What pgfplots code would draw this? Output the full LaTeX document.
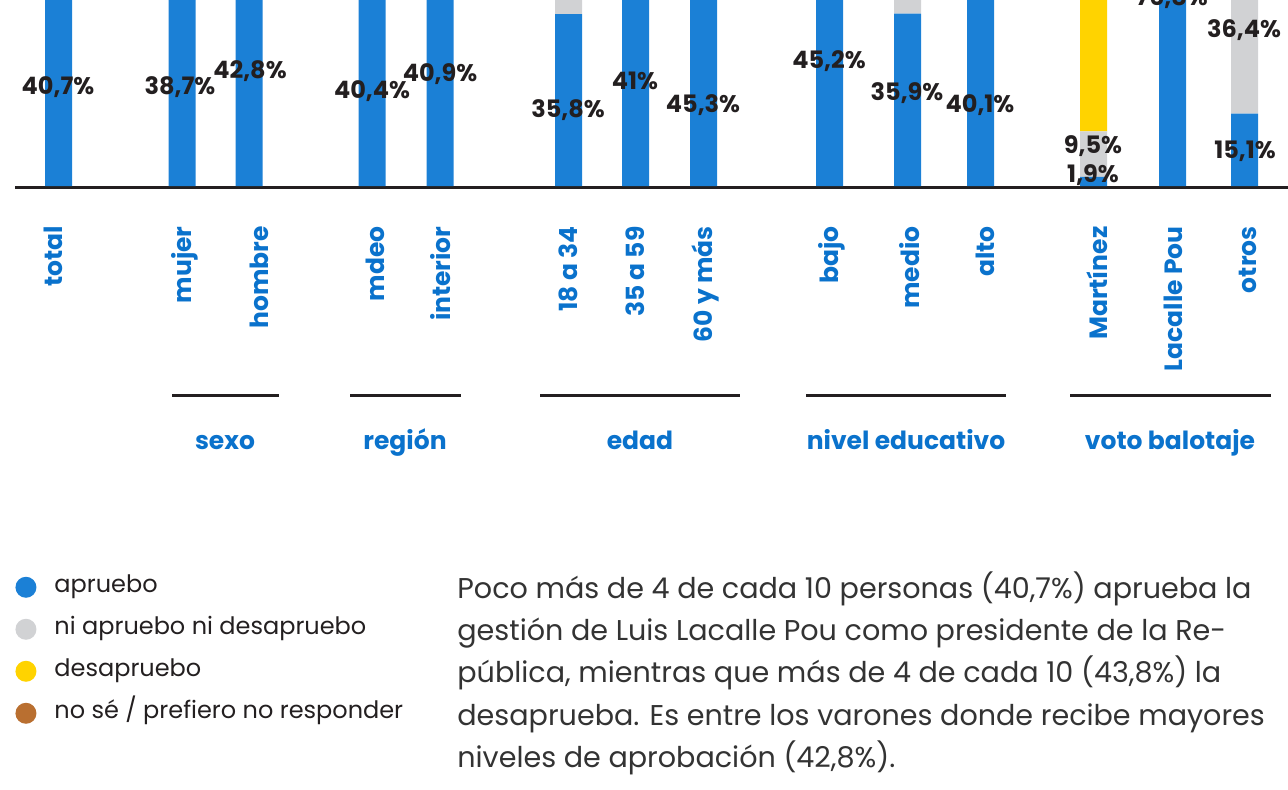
\documentclass[border=0pt]{standalone}
\usepackage{pgfplots}
\usepackage{pgfplotstable}
\pgfplotsset{compat=1.18}
\usepackage{fontspec}
\setmainfont{Poppins}
\definecolor{cblue}{HTML}{1B80D6}
\definecolor{cgray}{HTML}{D1D2D4}
\definecolor{cyellow}{HTML}{FFD300}
\definecolor{cbrown}{HTML}{B96F30}
\definecolor{ctxt}{HTML}{231F20}
\definecolor{clab}{HTML}{0A72CC}
\definecolor{cpar}{HTML}{333333}

% x = bar centre (pixel column), ap = apruebo, ni = ni apruebo ni desapruebo, des = desapruebo, ns = no sé
\pgfplotstableread{
x      ap    ni    des   ns
58.5   40.7  12.0  43.8  3.5
182    38.7  12.5  44.5  4.3
249    42.8  11.5  43.0  2.7
372    40.4  11.0  46.0  2.6
440    40.9  13.0  41.8  4.3
568.5  35.8  15.0  45.0  4.2
635.5  41.0  11.0  45.0  3.0
703.5  45.3  10.0  41.0  3.7
829.5  45.2  12.0  38.0  4.8
907.5  35.9  13.0  48.0  3.1
980.5  40.1  10.0  47.5  2.4
1093.5 1.9   9.5   86.0  2.6
1172.5 76.8  15.0  4.0   4.2
1244.5 15.1  36.4  40.0  8.5
}\data

\begin{document}
\begin{tikzpicture}
\useasboundingbox (0,0) rectangle (644pt,-394.5pt);
\begin{axis}[
  at={(0,0)}, anchor=north west,
  scale only axis, width=644pt, height=394.5pt,
  xmin=0, xmax=1288, ymin=-125.625, ymax=38.75,
  hide axis, clip=true,
  ybar stacked, bar width=27,
  legend style={draw=none, fill=none, inner sep=0pt, outer sep=0pt,
    at={(0.0120,0.2690)}, anchor=north west,
    font=\fontsize{12}{14}\selectfont, text=ctxt,
    row sep=10.5pt,
    nodes={inner sep=0pt, text height=8pt, text depth=2.5pt},
    /tikz/every odd column/.append style={column sep=9pt}},
  legend cell align=left,
]
\addplot[fill=cblue, draw=none, legend image code/.code={\fill[cblue] (0,0) circle (5.25pt);}] table[x=x,y=ap]{\data};
\addplot[fill=cgray, draw=none, legend image code/.code={\fill[cgray] (0,0) circle (5.25pt);}] table[x=x,y=ni]{\data};
\addplot[fill=cyellow, draw=none, legend image code/.code={\fill[cyellow] (0,0) circle (5.25pt);}] table[x=x,y=des]{\data};
\addplot[fill=cbrown, draw=none, legend image code/.code={\fill[cbrown] (0,0) circle (5.25pt);}] table[x=x,y=ns]{\data};
\legend{apruebo, ni apruebo ni desapruebo, desapruebo, no sé / prefiero no responder}
\draw[ctxt, line width=1.5pt] (axis cs:15,-0.21) -- (axis cs:1288,-0.21);
\end{axis}
\begin{scope}[x=0.5pt, y=-0.5pt]
% value labels
\begin{scope}[every node/.style={anchor=base, inner sep=0pt, text=ctxt, font=\fontsize{12}{14}\selectfont\bfseries}]
\node at (58,94) {40,7\%};
\node at (180,94) {38,7\%};
\node at (250,78) {42,8\%};
\node at (372,98) {40,4\%};
\node at (440,81) {40,9\%};
\node at (568,117) {35,8\%};
\node at (635,89) {41\%};
\node at (703,112) {45,3\%};
\node at (829,68) {45,2\%};
\node at (907,100) {35,9\%};
\node at (980,112) {40,1\%};
\node at (1093,153) {9,5\%};
\node at (1093,182) {1,9\%};
\node at (1245,158) {15,1\%};
\node at (1244,37) {36,4\%};
\node at (1172,5) {76,8\%};
\end{scope}
% category labels
\begin{scope}[every node/.style={rotate=90, anchor=east, inner sep=0pt, text=clab, font=\fontsize{12.5}{14}\selectfont\bfseries}]
\node at (53,226) {total};
\node at (185,226) {mujer};
\node at (259,226) {hombre};
\node at (375,226) {mdeo};
\node at (441,226) {interior};
\node at (568,226) {18 a 34};
\node at (635,226) {35 a 59};
\node at (705,226) {60 y más};
\node at (832,226) {bajo};
\node at (910,226) {medio};
\node at (985,226) {alto};
\node at (1097,226) {Martínez};
\node at (1173,226) {Lacalle Pou};
\node at (1248,226) {otros};
\end{scope}
% group lines
\begin{scope}[ctxt, line width=1.5pt]
\draw (172,395) -- (279,395);
\draw (350,395) -- (461,395);
\draw (540,395) -- (740,395);
\draw (806,395) -- (1006,395);
\draw (1070,395) -- (1271,395);
\end{scope}
% group labels
\begin{scope}[every node/.style={anchor=base, inner sep=0pt, text=clab, font=\fontsize{12.5}{14}\selectfont\bfseries}]
\node at (225,449) {sexo};
\node at (405,449) {región};
\node at (640,449) {edad};
\node at (906,449) {nivel educativo};
\node at (1170,449) {voto balotaje};
\end{scope}
% paragraph
\begin{scope}[every node/.style={anchor=base west, inner sep=0pt, text=cpar, font=\fontsize{14.3}{17}\selectfont}]
\node at (457,598) {Poco más de 4 de cada 10 personas (40,7\%) aprueba la};
\node at (457,640) {gestión de Luis Lacalle Pou como presidente de la Re-};
\node at (457,682) {pública, mientras que más de 4 de cada 10 (43,8\%) la};
\node at (457,725) {desaprueba. Es entre los varones donde recibe mayores};
\node at (457,767) {niveles de aprobación (42,8\%).};
\end{scope}
\end{scope}
\end{tikzpicture}
\end{document}
